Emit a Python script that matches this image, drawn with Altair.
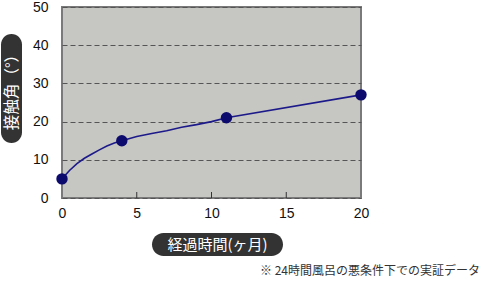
import altair as alt
import pandas as pd

# curve (months, contact angle)
curve_x = [0, 0.5, 1, 1.5, 2, 2.5, 3, 3.5, 4, 5, 6, 7, 8, 9, 10, 11, 20]
curve_y = [5, 7.2, 9, 10.4, 11.5, 12.6, 13.6, 14.4, 15, 16.1, 16.9, 17.6, 18.5, 19.2, 20.0, 21, 27]
# measured points
pt_x = [0, 4, 11, 20]
pt_y = [5, 15, 21, 27]
x_ticks = [0, 5, 10, 15, 20]
inner_ticks = [5, 10, 15]
y_ticks = [0, 10, 20, 30, 40, 50]

y_title = "接触角（°）"
x_title = "経過時間(ヶ月)"
note = "※ 24時間風呂の悪条件下での実証データ"

W, H = 299, 191
TOP = 7
FONT = "Liberation Sans"
JP = "Noto Sans CJK JP"

curve = pd.DataFrame({"x": curve_x, "y": curve_y})
pts = pd.DataFrame({"x": pt_x, "y": pt_y})
tk = pd.DataFrame({"x": inner_ticks})

xs = alt.Scale(domain=[0, 20], nice=False, zero=False)
ys = alt.Scale(domain=[0, 50], nice=False)

xax = alt.Axis(values=x_ticks, tickCount=5, title=None, grid=False, ticks=False, domain=False,
               labelFont=FONT, labelFontSize=14, labelColor="#111", labelPadding=8,
               labelFlush=False, labelOverlap=False, format="d")
yax = alt.Axis(values=y_ticks, tickCount=6, title=None, grid=True, gridDash=[5, 3],
               gridColor="#555", gridWidth=1, ticks=False, domain=False,
               labelFont=FONT, labelFontSize=14, labelColor="#111", labelPadding=14,
               labelFlush=False, labelOverlap=False, format="d")

line = alt.Chart(curve).mark_line(color="#1c1a8a", strokeWidth=1.6,
                                  interpolate="linear").encode(
    x=alt.X("x:Q", scale=xs, axis=xax),
    y=alt.Y("y:Q", scale=ys, axis=yax),
)
dots = alt.Chart(pts).mark_circle(color="#0c0a6c", opacity=1, size=130).encode(
    x=alt.X("x:Q", scale=xs, axis=xax),
    y=alt.Y("y:Q", scale=ys, axis=yax),
)
ticks = alt.Chart(tk).mark_rule(color="#333", strokeWidth=1).encode(
    x=alt.X("x:Q", scale=xs, axis=xax),
    y=alt.value(H - 6),
    y2=alt.value(H),
)

pill_df = pd.DataFrame({"a": [0]})
ypill = alt.Chart(pill_df).mark_rect(color="#333333", cornerRadius=10.5).encode(
    x=alt.value(-61), x2=alt.value(-40), y=alt.value(34 - TOP), y2=alt.value(143 - TOP))
ytext = alt.Chart(pill_df).mark_text(text=y_title, angle=270, color="white",
                                     font=JP, fontSize=15.5,
                                     align="center", baseline="middle").encode(
    x=alt.value(-50.5), y=alt.value(88.5 - TOP))
xpill = alt.Chart(pill_df).mark_rect(color="#333333", cornerRadius=11.5).encode(
    x=alt.value(90), x2=alt.value(221), y=alt.value(233 - TOP), y2=alt.value(256 - TOP))
xtext = alt.Chart(pill_df).mark_text(text=x_title, color="white", font=JP,
                                     fontSize=15, align="center",
                                     baseline="middle").encode(
    x=alt.value(155.5), y=alt.value(244.5 - TOP))
ntext = alt.Chart(pill_df).mark_text(text=note, color="#333", font=JP,
                                     fontSize=12, align="right",
                                     baseline="middle").encode(
    x=alt.value(418), y=alt.value(271 - TOP))

chart = alt.layer(line, ticks, dots, ypill, ytext, xpill, xtext, ntext).properties(
    width=W, height=H,
    autosize=alt.AutoSizeParams(type="none"),
    padding={"left": 62, "top": TOP, "right": 486 - 62 - W, "bottom": 281 - TOP - H},
    background="white",
).configure_view(fill="#c6c6c2", stroke="#7a7a7a", strokeWidth=2)

chart.save("out.html", embed_options={"renderer": "svg", "actions": False})
